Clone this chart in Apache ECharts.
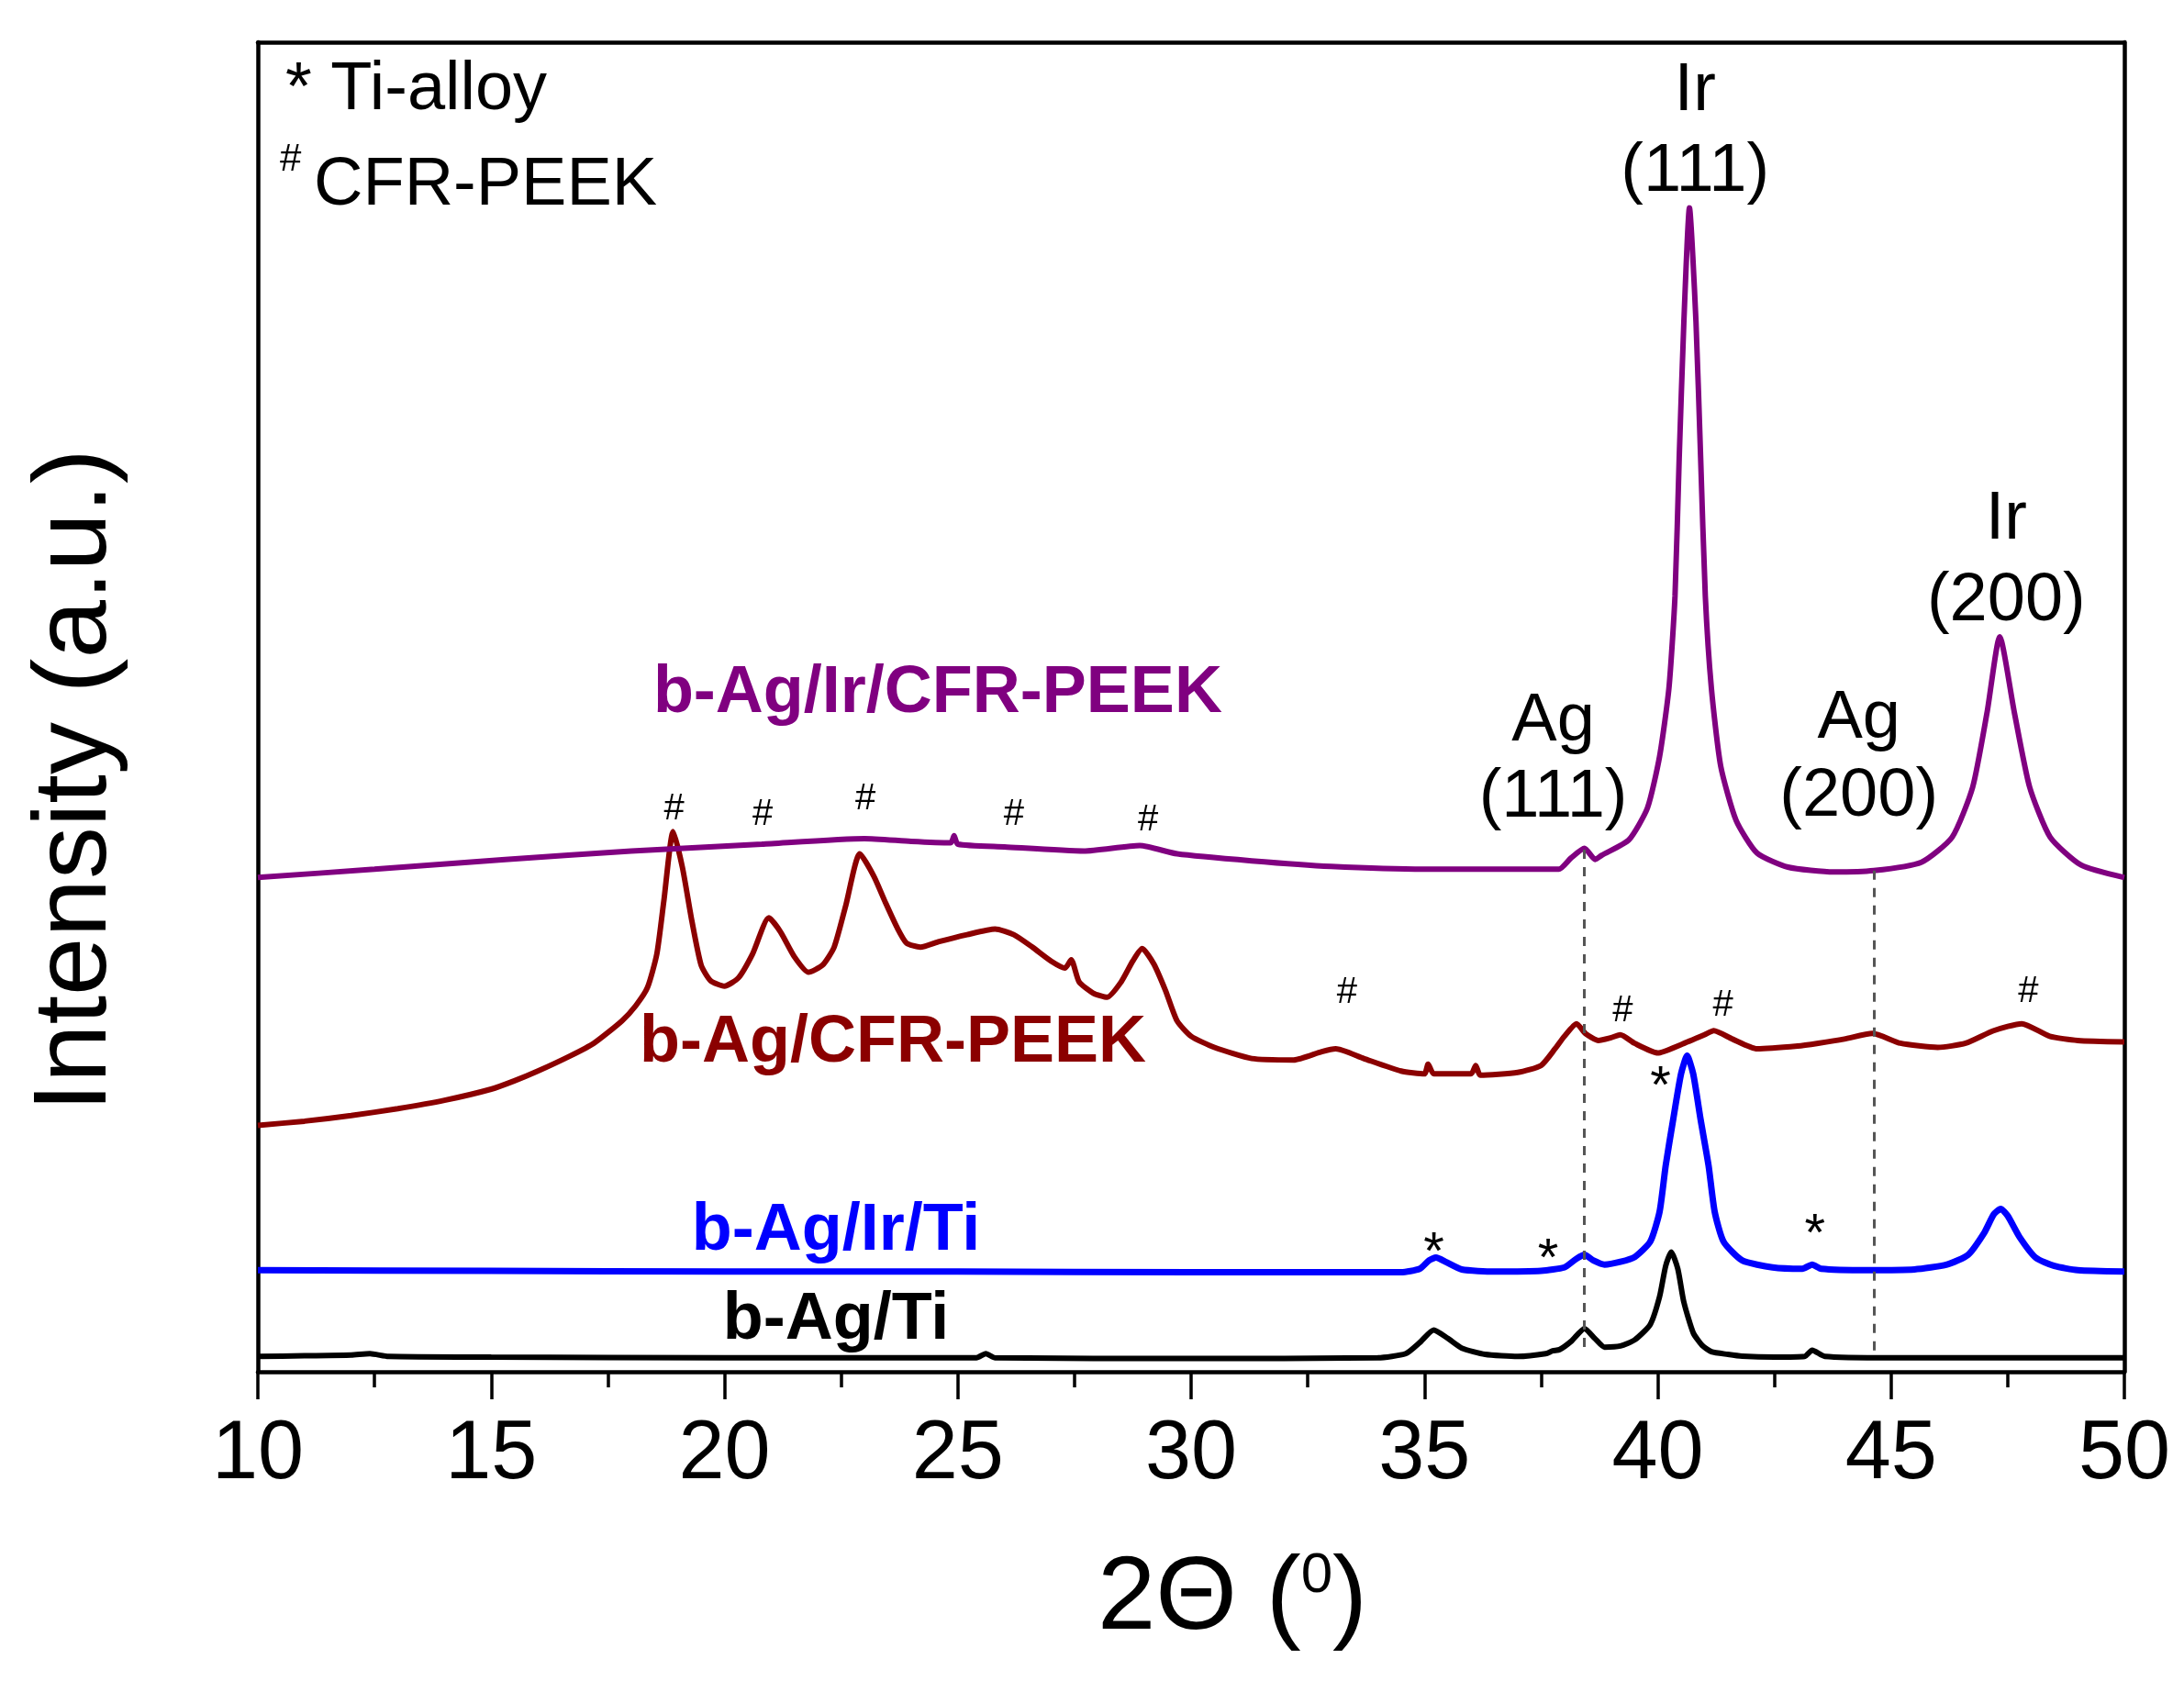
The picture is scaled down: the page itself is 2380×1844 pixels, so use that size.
<!DOCTYPE html>
<html>
<head>
<meta charset="utf-8">
<title>XRD patterns</title>
<script src="https://cdn.jsdelivr.net/npm/echarts@6/dist/echarts.min.js"></script>
<style>
  html, body { margin: 0; padding: 0; background: #fff; }
  #chart { width: 2380px; height: 1844px; }
</style>
</head>
<body>
<div id="chart"></div>
<script>
// 2theta (deg), intensity (a.u.) - curves already stacked like in the figure
const agTi = [
  [10, 11], [11, 11.5], [12, 12], [12.4, 13], [12.8, 11], [15, 10.5], [20, 10],
  [25.4, 10], [25.6, 13], [25.8, 10], [30, 9.5], [34, 10], [34.6, 13], [34.9, 21],
  [35.2, 30], [35.5, 24], [35.8, 17], [36.3, 12.5], [37, 11], [37.6, 13], [37.75, 15],
  [37.9, 16], [38.15, 22], [38.43, 31], [38.65, 24], [38.86, 17.7], [39.2, 18.5],
  [39.51, 23], [39.84, 34], [40.04, 54], [40.17, 76], [40.29, 86], [40.43, 74],
  [40.56, 50], [40.76, 28], [40.95, 19], [41.15, 14.4], [41.5, 12.5], [41.81, 11.2],
  [42.5, 10.5], [43.15, 11], [43.31, 15.5], [43.58, 11], [45, 10], [50, 10]
]

const agIrTi = [
  [10, 73], [15, 72.5], [20, 72], [25, 72], [30, 71.5], [34.5, 71.5], [34.9, 74],
  [35.1, 80], [35.25, 82], [35.45, 79], [35.8, 73.5], [36.5, 72], [37.5, 72.5],
  [38.0, 75], [38.25, 81], [38.43, 84], [38.62, 80], [38.86, 77], [39.2, 79],
  [39.51, 82.5], [39.84, 93.5], [40.04, 115], [40.17, 148], [40.33, 181], [40.5, 214],
  [40.63, 227], [40.76, 214], [40.92, 181], [41.09, 148], [41.22, 115], [41.41, 93.5],
  [41.81, 80], [42.46, 75], [43.1, 74], [43.31, 77], [43.5, 74], [44.5, 73],
  [45.5, 73.5], [46.2, 77], [46.65, 84], [47.0, 100], [47.2, 113], [47.35, 117],
  [47.5, 112], [47.75, 97], [48.1, 82], [48.5, 76], [49.0, 73], [50, 72]
]

const agCfrPeek = [
  [10, 177], [11, 180], [12, 184], [13, 189], [14, 195], [15, 203], [15.5, 209],
  [16, 216], [16.7, 227], [17.2, 236], [17.8, 252], [18.1, 263], [18.35, 276],
  [18.55, 300], [18.7, 338], [18.9, 388], [19.1, 362], [19.3, 324], [19.5, 292],
  [19.7, 281], [20.0, 277], [20.3, 283], [20.6, 300], [20.95, 326], [21.2, 316],
  [21.5, 298], [21.8, 287], [22.1, 292], [22.35, 305], [22.6, 335], [22.9, 372],
  [23.2, 356], [23.45, 337], [23.7, 319], [23.9, 308], [24.2, 305], [24.6, 309],
  [25.2, 314], [25.8, 318], [26.2, 314], [26.6, 305], [27.0, 295], [27.3, 290],
  [27.43, 296], [27.6, 280], [27.9, 272], [28.2, 269], [28.5, 280], [28.75, 295],
  [28.95, 304], [29.2, 293], [29.45, 274], [29.7, 252], [30.0, 241], [30.5, 233],
  [31.3, 225], [32.2, 224], [32.8, 230], [33.1, 232], [33.7, 225], [34.5, 216],
  [35.0, 214], [35.08, 221], [35.2, 214], [36.0, 214], [36.1, 220], [36.2, 213],
  [37.0, 215], [37.5, 220], [37.8, 232], [38.0, 241], [38.26, 250], [38.45, 243],
  [38.73, 238], [39.0, 240], [39.2, 242], [39.5, 236], [40.0, 229], [40.5, 235],
  [41.0, 242], [41.2, 245], [41.6, 239], [42.13, 232], [43.0, 234], [43.44, 236],
  [44.0, 239], [44.6, 243], [45.2, 236], [46.0, 233], [46.6, 236], [47.2, 245],
  [47.8, 250], [48.4, 241], [49.0, 238], [50.0, 237]
]

const agIrCfrPeek = [
  [10, 355], [12.5, 361], [15.3, 368], [18, 374], [20.8, 379], [23.0, 383], [24.0, 381],
  [24.85, 380], [24.92, 385], [25.0, 379], [26, 377], [27.7, 374], [28.9, 378],
  [29.7, 372], [31.3, 367], [33, 363], [35, 361], [37, 361], [37.88, 361], [38.14, 369],
  [38.43, 376], [38.66, 368], [38.8, 371], [39.38, 382], [39.78, 405], [40.04, 442],
  [40.24, 491], [40.37, 557], [40.46, 656], [40.56, 754], [40.68, 836], [40.82, 754],
  [40.92, 656], [41.02, 557], [41.15, 491], [41.35, 435], [41.68, 396], [42.13, 372.5],
  [42.79, 362.5], [43.77, 359], [44.63, 360], [45.65, 366], [46.31, 384], [46.75, 420],
  [47.06, 474], [47.33, 528], [47.64, 474], [47.97, 420], [48.41, 384], [49.07, 364],
  [50, 355]
]

const seriesNames = ['b-Ag/Ti', 'b-Ag/Ir/Ti', 'b-Ag/CFR-PEEK', 'b-Ag/Ir/CFR-PEEK']
const seriesColors = ['#000000', '#0000ff', '#8b0000', '#800080']
const nameLabelPos = [[22.39, 37], [22.39, 101], [23.61, 236], [24.57, 487]]

// CFR-PEEK (#) and Ti-alloy (*) reflections
const hashMarks = [[18.92, 404], [20.82, 400], [23.02, 411], [26.2, 400], [29.08, 396],
  [33.34, 272], [39.25, 259], [41.4, 263], [47.94, 273]]
const starMarks = [[35.2, 93], [37.65, 88], [40.06, 212], [43.37, 106]]

// peak names, two lines each
const peakText = ['Ir', '(111)', 'Ir', '(200)', 'Ag', '(111)', 'Ag', '(200)']
const peakPos = [[40.8, 920], [40.8, 862], [47.47, 612], [47.47, 553],
  [37.76, 467], [37.76, 412], [44.31, 469], [44.31, 413]]

// dashed guides at Ag(111) / Ag(200)
const refLineX = [38.42, 44.63]
const refLineTop = [375, 360]
const refLineBottom = [12, 10]

const FONT = '"Liberation Sans", Arial, Helvetica, sans-serif'

const chart = echarts.init(document.getElementById('chart'))

const curves = [agTi, agIrTi, agCfrPeek, agIrCfrPeek]
const lineWidths = [6, 7, 6, 6]
const lineSeries = curves.map((data, i) => ({
  name: seriesNames[i],
  type: 'line',
  data: data,
  showSymbol: false,
  smooth: 0.2,
  lineStyle: { color: seriesColors[i], width: lineWidths[i] },
  z: 3
}))

lineSeries[0].markLine = {
  silent: true,
  symbol: 'none',
  label: { show: false },
  lineStyle: { color: '#555', type: [10, 9], width: 3 },
  data: refLineX.map((x, i) => [{ coord: [x, refLineTop[i]] }, { coord: [x, refLineBottom[i]] }])
}

// text-only scatter used to place labels in data coordinates
const textSeries = (data, label) => ({
  type: 'scatter',
  data: data,
  symbolSize: 1,
  itemStyle: { color: 'transparent', opacity: 1 },
  silent: true,
  z: 5,
  label: Object.assign({
    show: true,
    position: 'inside',
    formatter: '{b}',
    fontFamily: FONT,
    color: '#000',
    opacity: 1
  }, label)
})

const option = {
  animation: false,
  backgroundColor: '#fff',
  grid: { left: 281, right: 65, top: 46, bottom: 349 },
  xAxis: [
    {
      type: 'value',
      min: 10,
      max: 50,
      interval: 5,
      axisLine: { onZero: false, lineStyle: { color: '#000', width: 4.5 } },
      axisTick: { length: 30, lineStyle: { color: '#000', width: 3.5 } },
      minorTick: { show: true, splitNumber: 2, length: 17, lineStyle: { color: '#000', width: 3.5 } },
      splitLine: { show: false },
      axisLabel: { fontSize: 90, fontFamily: FONT, color: '#000', margin: 46 },
      name: '2Θ ({sup|0})',
      nameLocation: 'middle',
      nameGap: 192,
      nameTextStyle: {
        fontSize: 114,
        fontFamily: FONT,
        color: '#000',
        padding: [0, 0, 0, 90],
        rich: { sup: { fontSize: 62, fontFamily: FONT, color: '#000', verticalAlign: 'top' } }
      }
    },
    {
      type: 'value',
      position: 'top',
      min: 10,
      max: 50,
      axisLine: { onZero: false, lineStyle: { color: '#000', width: 4.5 } },
      axisTick: { show: false },
      axisLabel: { show: false },
      splitLine: { show: false }
    }
  ],
  yAxis: [
    {
      type: 'value',
      min: 0,
      max: 955,
      axisLine: { show: true, onZero: false, lineStyle: { color: '#000', width: 4.5 } },
      axisTick: { show: false },
      axisLabel: { show: false },
      splitLine: { show: false },
      name: 'Intensity (a.u.)',
      nameLocation: 'middle',
      nameRotate: 90,
      nameGap: 140,
      nameTextStyle: { fontSize: 114, fontFamily: FONT, color: '#000', padding: [0, 160, 0, 0] }
    },
    {
      type: 'value',
      position: 'right',
      min: 0,
      max: 955,
      axisLine: { show: true, onZero: false, lineStyle: { color: '#000', width: 4.5 } },
      axisTick: { show: false },
      axisLabel: { show: false },
      splitLine: { show: false }
    }
  ],
  series: lineSeries.concat([
    textSeries(hashMarks.map(p => ({ name: '#', value: p })), { fontSize: 40 }),
    textSeries(starMarks.map(p => ({ name: '*', value: p })), { fontSize: 58, offset: [0, 13] }),
    textSeries(peakPos.map((p, i) => ({ name: peakText[i], value: p })), { fontSize: 74 }),
    textSeries(nameLabelPos.map((p, i) => ({
      name: seriesNames[i],
      value: p,
      label: { color: seriesColors[i] }
    })), { fontSize: 72, fontWeight: 'bold' })
  ]),
  graphic: [
    { type: 'text', x: 311, y: 99, style: { text: '* Ti-alloy', fontSize: 74, fontFamily: FONT, fill: '#000', verticalAlign: 'middle' } },
    { type: 'text', x: 305, y: 174, style: { text: '#', fontSize: 42, fontFamily: FONT, fill: '#000', verticalAlign: 'middle' } },
    { type: 'text', x: 342, y: 203, style: { text: 'CFR-PEEK', fontSize: 74, fontFamily: FONT, fill: '#000', verticalAlign: 'middle' } }
  ]
}

chart.setOption(option)
</script>
</body>
</html>
